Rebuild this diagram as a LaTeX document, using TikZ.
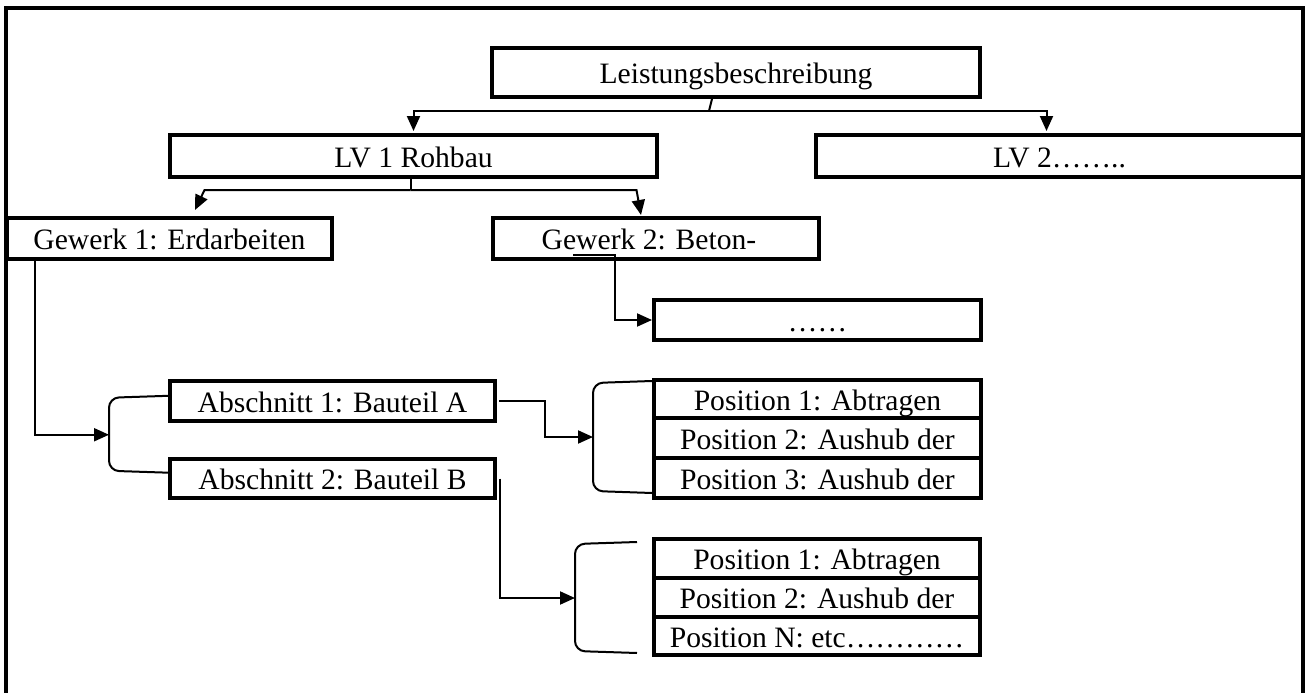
\documentclass[tikz,border=0pt]{standalone}
\usepackage{fontspec}
\setmainfont{Liberation Serif}
\usetikzlibrary{arrows.meta,calc}
\begin{document}
\begin{tikzpicture}[x=1pt,y=-1pt,
  box/.style={draw,line width=4pt,inner sep=0pt,text height=24pt,text depth=2pt,
    font=\fontsize{29.6}{34}\selectfont},
  conn/.style={line width=2pt},
  arr/.style={conn,-{Triangle[length=15pt,width=13pt]}},
  brk/.style={line width=2pt,rounded corners=10pt}]
\useasboundingbox (0,0) rectangle (1310,693);

% open outer frame
\draw[line width=4pt] (6,700) -- (6,8) -- (1303,8) -- (1303,700);

% hierarchy boxes
\node[box,minimum width=488pt,minimum height=49pt] (L)   at (736,72.5)   {Leistungsbeschreibung};
\node[box,minimum width=487pt,minimum height=42pt] (LV1) at (413.5,156)  {LV 1 Rohbau};
\node[box,minimum width=487pt,minimum height=42pt] (LV2) at (1059.5,156) {LV 2……..};
\node[box,minimum width=325pt,minimum height=41pt] (G1)  at (169.5,238.5) {Gewerk 1: Erdarbeiten};
\node[box,minimum width=326pt,minimum height=41pt] (G2)  at (656,238.5)   {Gewerk 2: Beton-\hspace*{14pt}};
\node[box,minimum width=327pt,minimum height=40pt] (D)   at (817.5,320)   {……};
\node[box,minimum width=325pt,minimum height=40pt] (A1)  at (332.5,401)   {Abschnitt 1: Bauteil A};
\node[box,minimum width=325pt,minimum height=39pt] (A2)  at (332.5,478.5) {Abschnitt 2: Bauteil B};

% position lists
\node[box,minimum width=327pt,minimum height=38pt] (P11) at (817.5,399) {Position 1: Abtragen};
\node[box,minimum width=327pt,minimum height=40pt] (P12) at (817.5,438) {Position 2: Aushub der};
\node[box,minimum width=327pt,minimum height=40pt] (P13) at (817.5,478) {Position 3: Aushub der};
\node[box,minimum width=326pt,minimum height=39pt] (P21) at (817,558.5) {Position 1: Abtragen};
\node[box,minimum width=326pt,minimum height=39pt] (P22) at (817,597.5) {Position 2: Aushub der};
\node[box,minimum width=326pt,minimum height=38pt] (P23) at (817,636)   {Position N: etc…………};

% brackets
\coordinate (bA)  at ($($(A1.west)!0.5!(A2.west)$)+(-59,-5)$);
\coordinate (bP1) at ($(P12.west)+(-59,-1)$);
\coordinate (bP2) at ($(P22.west)+(-77,0.5)$);
\draw[brk] ($(bA)+(61,-39)$) -- ($(bA)+(0,-37)$) -- ($(bA)+(0,36)$) -- ($(bA)+(61,38)$);
\draw[brk] ($(bP1)+(59,-56)$) -- ($(bP1)+(0,-54)$) -- ($(bP1)+(0,54)$) -- ($(bP1)+(59,56)$);
\draw[brk] ($(bP2)+(62,-56)$) -- ($(bP2)+(0,-54)$) -- ($(bP2)+(0,53)$) -- ($(bP2)+(62,55)$);

% connectors
\draw[conn] ([xshift=-24pt]L.south) -- ++(-3,12) coordinate (j1);
\draw[arr,shorten >=2pt] (j1) -| (LV1.north);
\draw[arr,shorten >=2pt] (j1) -| ([xshift=-13pt]LV2.north);

\draw[conn] ([xshift=-3pt]LV1.south) -- ++(0,11) coordinate (j2);
\draw[arr] (j2) -- ++(-206,0) -- ([xshift=25.5pt,yshift=6pt]G1.north);
\draw[arr] (j2) -- ++(226,0) -- ([xshift=-15pt,yshift=1pt]G2.north);

\draw[arr] ([xshift=82pt,yshift=6pt]G2.south west) -- ++(42,0) |- (D.west);
\draw[arr] ([xshift=30pt]G1.south west) |- (bA);
\draw[arr] ([xshift=2pt]A1.east) -- ++(46,0) |- (bP1);
\draw[arr] ([xshift=3pt]A2.east) |- (bP2);
\end{tikzpicture}
\end{document}
